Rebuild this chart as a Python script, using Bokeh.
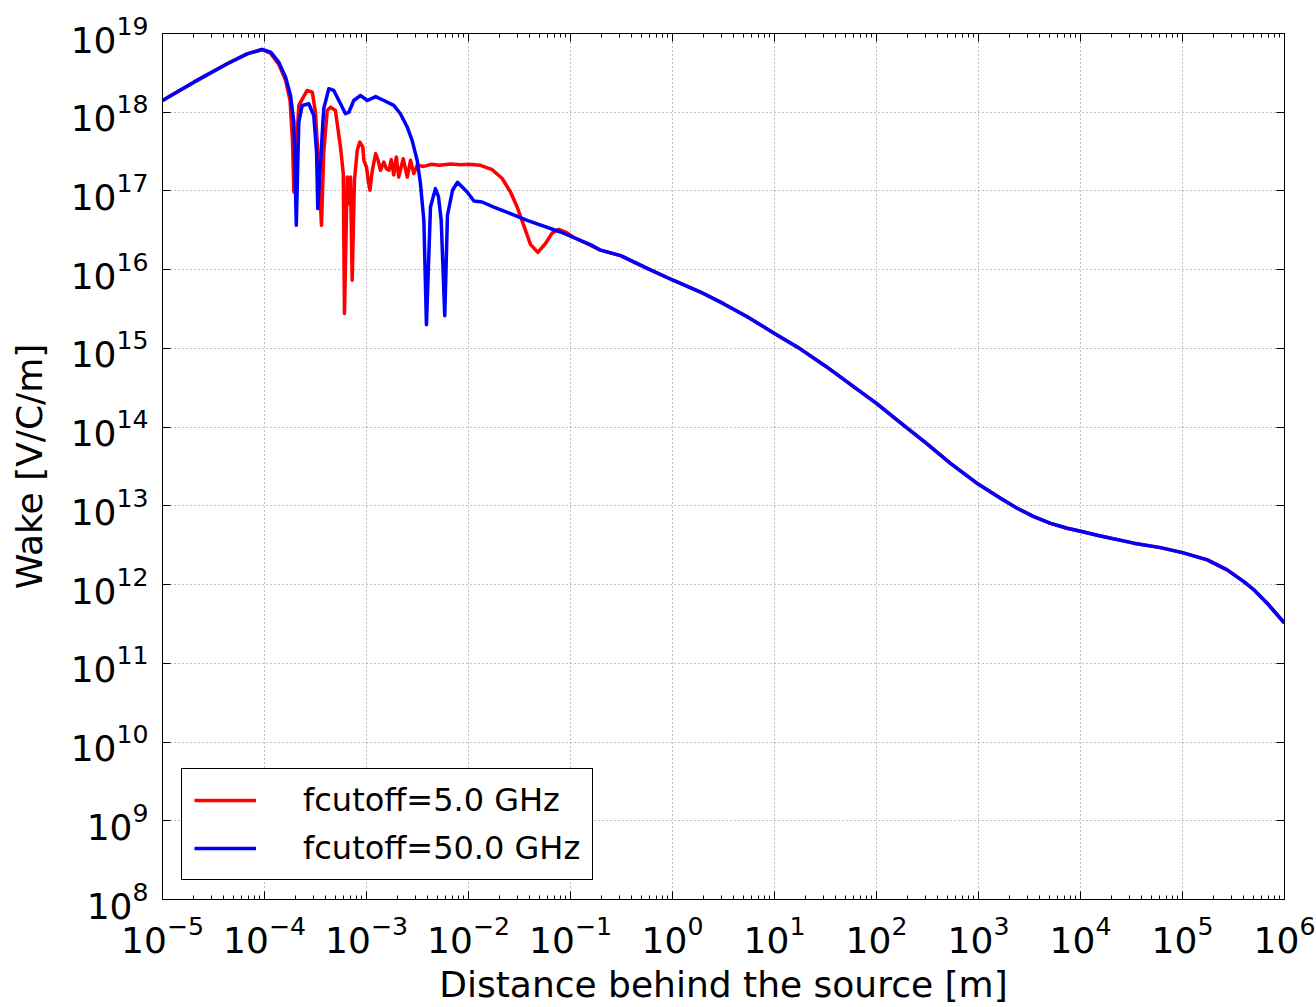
from bokeh.plotting import figure
from bokeh.models import FixedTicker, LogAxis, CustomJSTickFormatter
from bokeh.embed import file_html
from bokeh.resources import INLINE

# ---- tick values ----
x_major = [10.0 ** k for k in range(-5, 7)]
x_minor = [m * 10.0 ** k for k in range(-5, 6) for m in range(2, 10)]
y_major = [10.0 ** k for k in range(8, 20)]

# ---- shared rising part (both series) ----
rise_x = [1e-5, 2.03e-5, 4.31e-5, 6.76e-5, 9.49e-5]
rise_y = [1.41e18, 2.41e18, 4.13e18, 5.52e18, 6.27e18]

# ---- shared tail (both series) ----
tail_x = [0.197, 0.31, 0.565, 1.0, 1.88, 3.16, 5.4, 10.0, 18.0, 32.0, 60.0, 100.0,
          185.0, 309.0, 531.0, 1000.0, 1644.0, 2393.0, 3485.0, 5080.0, 7400.0, 1e4,
          1.57e4, 3.33e4, 6.08e4, 1e5, 1.75e5, 2.74e5, 3.99e5, 5e5, 6.76e5, 1e6]
tail_y = [1.77e16, 1.51e16, 1.04e16, 7.4e15, 5.2e15, 3.7e15, 2.52e15, 1.55e15,
          9.8e14, 5.9e14, 3.24e14, 2.0e14, 1.05e14, 6.2e13, 3.47e13, 1.88e13,
          1.25e13, 9.33e12, 7.3e12, 6.0e12, 5.2e12, 4.75e12, 4.15e12, 3.36e12,
          2.95e12, 2.55e12, 2.06e12, 1.54e12, 1.09e12, 8.6e11, 5.8e11, 3.24e11]

# ---- fcutoff = 5.0 GHz (red) ----
red_mid_x = [1.15e-4, 1.38e-4, 1.61e-4, 1.78e-4, 1.88e-4, 1.94e-4, 2.17e-4, 2.62e-4,
             2.94e-4, 3.16e-4, 3.4e-4, 3.62e-4, 3.81e-4, 4.12e-4, 4.44e-4, 4.96e-4,
             5.56e-4, 5.92e-4, 6.08e-4, 6.47e-4, 6.72e-4, 6.97e-4, 7.24e-4, 7.62e-4,
             8.11e-4, 8.6e-4, 9.2e-4, 9.42e-4, 1.0e-3, 1.04e-3, 1.08e-3, 1.14e-3,
             1.23e-3, 1.3e-3, 1.37e-3, 1.48e-3, 1.57e-3, 1.66e-3, 1.75e-3, 1.85e-3,
             1.96e-3, 2.07e-3, 2.29e-3, 2.51e-3, 2.7e-3, 2.91e-3, 3.14e-3, 3.65e-3,
             4.3e-3, 5.2e-3, 6.67e-3, 8.4e-3, 1.0e-2, 1.31e-2, 1.71e-2, 2.14e-2,
             2.58e-2, 3.0e-2, 3.48e-2, 4.05e-2, 4.78e-2, 5.69e-2, 6.62e-2, 7.68e-2,
             8.93e-2, 0.108]
red_mid_y = [5.57e18, 4.05e18, 2.54e18, 1.41e18, 4.39e17, 9.7e16, 1.22e18, 1.89e18,
             1.8e18, 1.0e18, 1.94e17, 3.66e16, 3.12e17, 1.05e18, 1.16e18, 1.05e18,
             3.6e17, 1.66e17, 2.78e15, 1.5e17, 6.9e16, 1.5e17, 7.35e15, 1.36e17,
             3.28e17, 4.18e17, 3.6e17, 2.45e17, 2.01e17, 1.36e17, 1.02e17, 1.83e17,
             2.98e17, 2.45e17, 1.83e17, 2.33e17, 1.9e17, 1.83e17, 2.5e17, 1.6e17,
             2.7e17, 1.5e17, 2.57e17, 1.5e17, 2.45e17, 1.66e17, 2.12e17, 2.05e17,
             2.18e17, 2.12e17, 2.2e17, 2.15e17, 2.18e17, 2.12e17, 1.86e17, 1.44e17,
             9.7e16, 6.25e16, 3.66e16, 2.1e16, 1.66e16, 2.15e16, 2.93e16, 3.26e16,
             3.01e16, 2.56e16]

# ---- fcutoff = 50.0 GHz (blue) ----
blue_mid_x = [1.15e-4, 1.38e-4, 1.61e-4, 1.8e-4, 1.94e-4, 2.05e-4, 2.17e-4, 2.34e-4,
              2.72e-4, 3.04e-4, 3.24e-4, 3.33e-4, 3.54e-4, 3.81e-4, 4.27e-4, 4.78e-4,
              5.56e-4, 6.22e-4, 6.72e-4, 7.5e-4, 8.73e-4, 1.02e-3, 1.23e-3, 1.48e-3,
              1.85e-3, 2.15e-3, 2.51e-3, 2.8e-3, 3.14e-3, 3.38e-3, 3.65e-3, 3.87e-3,
              4.24e-3, 4.74e-3, 5.08e-3, 5.4e-3, 5.85e-3, 6.22e-3, 6.97e-3, 7.8e-3,
              9.7e-3, 1.13e-2, 1.36e-2, 1.77e-2, 3.76e-2, 7.98e-2, 0.157]
blue_mid_y = [5.8e18, 4.33e18, 2.79e18, 1.63e18, 7.5e17, 3.66e16, 7.5e17, 1.22e18,
              1.28e18, 9.1e17, 3.12e17, 5.97e16, 2.33e17, 1.11e18, 1.99e18, 1.89e18,
              1.28e18, 9.57e17, 1.0e18, 1.41e18, 1.63e18, 1.41e18, 1.58e18, 1.41e18,
              1.22e18, 9.57e17, 6.47e17, 4.39e17, 2.45e17, 1.24e17, 4.24e16, 2.0e15,
              6.25e16, 1.07e17, 8.4e16, 4.24e16, 2.6e15, 4.91e16, 1.02e17, 1.29e17,
              9.7e16, 7.45e16, 7.24e16, 6.25e16, 4.24e16, 3.01e16, 2.08e16]

red_x = rise_x + red_mid_x + tail_x
red_y = rise_y + red_mid_y + tail_y
blue_x = rise_x + blue_mid_x + tail_x
blue_y = rise_y + blue_mid_y + tail_y

FONT = "DejaVu Sans"

p = figure(width=1316, height=1007, x_axis_type="log", y_axis_type="log",
           x_range=(1e-5, 1e6), y_range=(1e8, 1e19),
           output_backend="svg", toolbar_location=None,
           min_border_left=162, min_border_right=32,
           min_border_top=33, min_border_bottom=107)
p.background_fill_color = "white"
p.border_fill_color = "white"
p.outline_line_color = "black"
p.outline_line_width = 1
p.outline_line_alpha = 1

p.line(red_x, red_y, line_color="#ff0000", line_width=3.5, line_join="round",
       legend_label="fcutoff=5.0 GHz")
p.line(blue_x, blue_y, line_color="#0000ff", line_width=3.5, line_join="round",
       legend_label="fcutoff=50.0 GHz")

xt = FixedTicker(ticks=x_major, minor_ticks=x_minor)
yt = FixedTicker(ticks=y_major, minor_ticks=[])

def style_axis(ax, show_labels=True):
    ax.axis_line_color = "black"
    ax.axis_line_width = 1
    ax.major_tick_in = 8
    ax.major_tick_out = 0
    ax.minor_tick_in = 4
    ax.minor_tick_out = 0
    ax.major_tick_line_color = "black"
    ax.minor_tick_line_color = "black"
    ax.major_label_text_font = FONT
    ax.major_label_text_color = "black"
    ax.axis_label_text_font = FONT
    ax.axis_label_text_font_style = "normal"
    ax.axis_label_text_color = "black"
    ax.major_label_text_font_size = "36px"
    ax.axis_label_text_font_size = "36px"
    if not show_labels:
        ax.formatter = CustomJSTickFormatter(code="return '';")
        ax.major_label_standoff = 0

xa = p.xaxis[0]
xa.ticker = xt
style_axis(xa)
xa.axis_label = "Distance behind the source [m]"
xa.major_label_standoff = 15
xa.axis_label_standoff = 8

ya = p.yaxis[0]
ya.ticker = yt
style_axis(ya)
ya.axis_label = "Wake [V/C/m]"
ya.major_label_standoff = 14
ya.axis_label_standoff = 18

top = LogAxis(ticker=xt)
style_axis(top, show_labels=False)
p.add_layout(top, "above")
right = LogAxis(ticker=yt)
style_axis(right, show_labels=False)
p.add_layout(right, "right")

p.xgrid.ticker = xt
p.ygrid.ticker = yt
p.grid.grid_line_color = "#7f7f7f"
p.grid.grid_line_dash = "1 3"
p.grid.grid_line_width = 1

lg = p.legend[0]
lg.location = (19, 19)
lg.label_text_font = FONT
lg.label_text_font_size = "32px"
lg.label_text_color = "black"
lg.glyph_width = 62
lg.glyph_height = 38
lg.label_height = 38
lg.label_standoff = 47
lg.spacing = 10
lg.padding = 12
lg.margin = 0
lg.border_line_color = "black"
lg.border_line_width = 1
lg.border_line_alpha = 1
lg.background_fill_color = "white"
lg.background_fill_alpha = 1

open("out.html", "w").write(file_html(p, INLINE))
